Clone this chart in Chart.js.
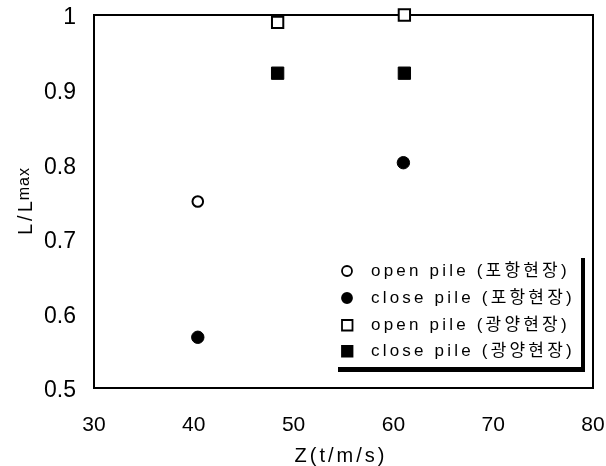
<!DOCTYPE html>
<html>
<head>
<meta charset="utf-8">
<script src="https://cdn.jsdelivr.net/npm/chart.js@4"></script>
<style>
  html, body { margin: 0; padding: 0; background: #fff; }
  #chart { display: block; }
</style>
</head>
<body>
<canvas id="chart" width="606" height="466"></canvas>
<script>
// ---- data ----
const seriesLabels = ["open pile (포항현장)", "close pile (포항현장)", "open pile (광양현장)", "close pile (광양현장)"];

const openPohangX = [40.4];
const openPohangY = [0.75];
const closePohangX = [40.4, 61.0];
const closePohangY = [0.568, 0.802];
const openGwangX = [48.4, 61.1];
const openGwangY = [0.99, 1.0];
const closeGwangX = [48.4, 61.1];
const closeGwangY = [0.922, 0.922];

const xTicks = [30, 40, 50, 60, 70, 80];
const yTicks = [0.5, 0.6, 0.7, 0.8, 0.9, 1];

const toPoints = (xs, ys) => xs.map((x, i) => ({ x, y: ys[i] }));

const KFONT = '"Liberation Sans", Arial, "Noto Sans CJK KR", sans-serif';

// frame around the plot, drawn under the markers
const framePlugin = {
  id: "frame",
  beforeDatasetsDraw(chart) {
    const { ctx, chartArea: a } = chart;
    ctx.save();
    ctx.strokeStyle = "#000";
    ctx.lineWidth = 2;
    ctx.strokeRect(a.left, a.top, a.right - a.left, a.bottom - a.top);
    ctx.restore();
  }
};

// axis titles with letter spacing + subscript, and the boxed legend
const extrasPlugin = {
  id: "extras",
  afterDraw(chart) {
    const { ctx, chartArea: a } = chart;
    ctx.save();
    ctx.fillStyle = "#000";

    // x title
    ctx.font = "20px " + KFONT;
    ctx.letterSpacing = "3px";
    ctx.textAlign = "center";
    ctx.textBaseline = "alphabetic";
    ctx.fillText("Z(t/m/s)", 341, 462);

    // y title  L/L_max
    const cy = (a.top + a.bottom) / 2;
    ctx.save();
    ctx.translate(32, cy);
    ctx.rotate(-Math.PI / 2);
    ctx.textAlign = "left";
    ctx.font = "20px " + KFONT;
    ctx.letterSpacing = "3px";
    const w1 = ctx.measureText("L/L").width - 3;
    ctx.font = "16px " + KFONT;
    ctx.letterSpacing = "1px";
    const w2 = ctx.measureText("max").width;
    const start = -(w1 + w2) / 2;
    ctx.font = "20px " + KFONT;
    ctx.letterSpacing = "3px";
    ctx.fillText("L/L", start, 0);
    ctx.font = "16px " + KFONT;
    ctx.letterSpacing = "1px";
    ctx.fillText("max", start + w1 + 1, -3);
    ctx.restore();

    // legend
    const rows = [271, 298, 325, 351];
    const mx = 347, tx = 371;
    ctx.font = "17px " + KFONT;
    ctx.letterSpacing = "3.2px";
    ctx.textAlign = "left";
    ctx.textBaseline = "middle";
    chart.data.datasets.forEach((ds, i) => {
      const y = rows[i];
      ctx.lineWidth = 1.8;
      ctx.strokeStyle = "#000";
      ctx.fillStyle = ds.backgroundColor;
      ctx.beginPath();
      if (ds.pointStyle === "circle") {
        ctx.arc(mx, y, 5, 0, Math.PI * 2);
      } else {
        ctx.rect(mx - 5, y - 5, 10.5, 10.5);
      }
      ctx.fill();
      ctx.stroke();
      ctx.fillStyle = "#000";
      ctx.fillText(ds.label, tx, y);
    });

    // shadow of the legend box
    ctx.fillRect(581, 258, 4, 114);
    ctx.fillRect(338, 367, 247, 5);
    ctx.restore();
  }
};

new Chart(document.getElementById("chart"), {
  type: "scatter",
  data: {
    datasets: [
      {
        label: seriesLabels[0],
        data: toPoints(openPohangX, openPohangY),
        pointStyle: "circle",
        pointRadius: 5.3,
        borderWidth: 2,
        borderColor: "#000",
        backgroundColor: "#fff",
        clip: false
      },
      {
        label: seriesLabels[1],
        data: toPoints(closePohangX, closePohangY),
        pointStyle: "circle",
        pointRadius: 6.2,
        borderWidth: 1,
        borderColor: "#000",
        backgroundColor: "#000",
        clip: false
      },
      {
        label: seriesLabels[2],
        data: toPoints(openGwangX, openGwangY),
        pointStyle: "rect",
        pointRadius: 8,
        borderWidth: 2,
        borderColor: "#000",
        backgroundColor: "#fff",
        clip: false
      },
      {
        label: seriesLabels[3],
        data: toPoints(closeGwangX, closeGwangY),
        pointStyle: "rect",
        pointRadius: 8.7,
        borderWidth: 1,
        borderColor: "#000",
        backgroundColor: "#000",
        clip: false
      }
    ]
  },
  options: {
    responsive: false,
    animation: false,
    devicePixelRatio: 1,
    layout: { padding: { top: 15, right: 13, left: 0, bottom: 0 } },
    plugins: { legend: { display: false }, tooltip: { enabled: false } },
    scales: {
      x: {
        type: "linear",
        min: xTicks[0],
        max: xTicks[xTicks.length - 1],
        afterBuildTicks: s => { s.ticks = xTicks.map(v => ({ value: v })); },
        afterFit: s => { s.height = 78; s.paddingLeft = 0; s.paddingRight = 0; },
        grid: { display: false, drawTicks: false },
        border: { display: false },
        ticks: {
          color: "#000",
          padding: 25,
          font: { family: KFONT, size: 21 },
          callback: v => String(v)
        }
      },
      y: {
        type: "linear",
        min: yTicks[0],
        max: yTicks[yTicks.length - 1],
        afterBuildTicks: s => { s.ticks = yTicks.map(v => ({ value: v })); },
        afterFit: s => { s.width = 94; s.paddingTop = 0; s.paddingBottom = 0; },
        grid: { display: false, drawTicks: false },
        border: { display: false },
        ticks: {
          color: "#000",
          padding: 18,
          labelOffset: 3,
          font: { family: KFONT, size: 23 },
          callback: v => String(Math.round(v * 10) / 10)
        }
      }
    }
  },
  plugins: [framePlugin, extrasPlugin]
});
</script>
</body>
</html>
